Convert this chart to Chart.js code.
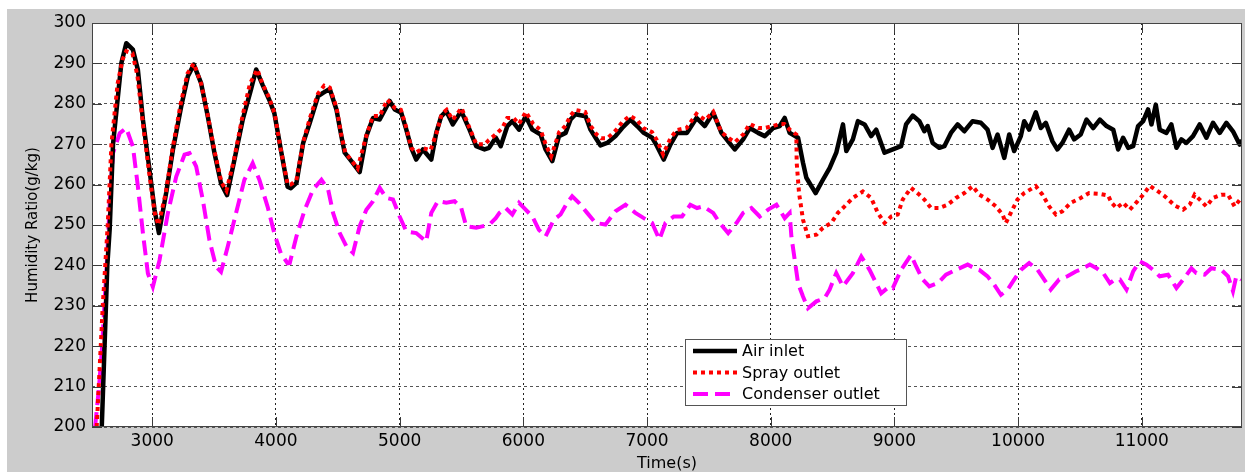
<!DOCTYPE html>
<html>
<head>
<meta charset="utf-8">
<script src="https://cdn.jsdelivr.net/npm/chart.js@4.4.1/dist/chart.umd.min.js"></script>
<style>
  html, body { margin: 0; padding: 0; background: #fff; }
  #wrap { position: relative; width: 1245px; height: 472px; }
</style>
</head>
<body>
<div id="wrap"><canvas id="humidityChart" width="1245" height="472"></canvas></div>
<script>
// Datos: [tiempo (s), humedad (g/kg)]
const airInlet = [
  [2592,200],[2637,240],[2656,249],[2683,270],[2750,290],[2790,295],[2844,293.4],[2884,288.4],
  [2925,276],[2978,263.6],[3019,253.7],[3054,248],[3113,258],[3167,268.6],[3234,279.3],[3288,286.8],
  [3336,289.7],[3395,285.1],[3449,276.9],[3503,267.8],[3556,260.3],[3605,257.4],[3664,266.1],[3731,276],
  [3798,283.5],[3840,288.5],[3892,284.7],[3946,281],[3987,277.7],[4040,268.6],[4094,259.5],[4121,259.1],
  [4166,260.4],[4220,270.3],[4274,275.3],[4341,281.9],[4381,282.7],[4435,283.7],[4489,278.6],[4529,272],
  [4556,267.9],[4610,265.8],[4677,263.1],[4731,272],[4785,276.5],[4839,276.1],[4919,280.7],[4960,278.6],
  [5013,277.8],[5054,273.6],[5094,269.1],[5134,266.2],[5188,268.7],[5256,266.2],[5296,272.8],[5336,276.9],
  [5377,278.2],[5430,274.9],[5498,278.2],[5565,273.6],[5619,269.5],[5686,268.7],[5723,269.1],[5777,271.6],
  [5817,269.5],[5871,274.5],[5911,275.7],[5965,273.6],[6019,276.9],[6073,273.6],[6140,272.4],[6180,268.7],
  [6234,265.8],[6288,272],[6342,272.8],[6382,276.1],[6422,277.4],[6503,276.9],[6543,273.6],[6584,271.6],
  [6624,269.7],[6678,270.3],[6745,272],[6799,274],[6866,276.1],[6920,274.5],[6974,272.8],[7041,271.6],
  [7081,269.5],[7135,266.2],[7189,269.9],[7243,272.8],[7323,272.8],[7400,276.5],[7467,274.5],[7535,277.8],
  [7602,272.8],[7656,270.7],[7709,268.7],[7777,271.2],[7831,274],[7898,272.8],[7952,272],[8019,274],
  [8073,274.5],[8113,276.5],[8153,272.8],[8221,271.6],[8261,265.4],[8288,261.7],[8363,257.9],[8422,261.2],
  [8476,264.1],[8530,267.9],[8584,274.9],[8611,268.3],[8664,271.2],[8705,275.7],[8759,274.9],[8812,272],
  [8853,273.6],[8920,267.9],[8987,268.7],[9054,269.5],[9094,274.9],[9148,277.1],[9202,275.7],[9242,273.2],
  [9269,274.5],[9309,270.3],[9363,269.1],[9404,269.5],[9457,272.8],[9511,274.9],[9565,273.2],[9632,275.7],
  [9699,275.3],[9753,273.6],[9794,269.1],[9834,272.4],[9888,266.6],[9928,272.4],[9968,268.3],[10022,272],
  [10049,275.7],[10089,273.6],[10143,277.9],[10184,274],[10224,275.3],[10278,270.7],[10318,268.7],[10358,270.3],
  [10412,273.6],[10453,271.2],[10506,272.4],[10553,276.1],[10607,274],[10661,276.1],[10715,274.5],[10769,273.6],
  [10809,268.7],[10849,271.6],[10890,269.1],[10930,269.5],[10970,274.5],[11011,275.7],[11051,278.6],[11078,274.9],
  [11113,279.8],[11145,273.6],[11199,272.8],[11239,274.9],[11280,269.1],[11320,271.2],[11360,270.3],[11414,272],
  [11468,274.9],[11522,271.6],[11576,275.3],[11630,272.8],[11684,275.3],[11737,273.2],[11791,269.9],[11810,271]
];

const sprayOutlet = [
  [2551,200],[2600,230],[2640,250],[2670,270],[2720,285],[2760,291],[2790,293],[2840,292.5],[2880,287],
  [2925,275],[2975,263],[3020,253],[3050,250],[3110,258],[3165,269],[3230,280],[3285,287.5],[3336,290],
  [3395,285],[3450,277],[3505,268],[3560,260.5],[3600,258.5],[3660,266],[3730,277],[3790,285],[3850,288.5],
  [3890,285],[3945,281.5],[3990,277.5],[4040,268.5],[4095,260],[4120,260],[4165,261],[4220,270.5],[4275,276.5],
  [4340,282.5],[4390,284.5],[4435,284],[4490,279],[4530,272],[4560,268],[4610,266],[4660,264],[4730,272],
  [4785,277],[4840,277],[4900,281],[4960,279],[5010,278.5],[5055,274],[5095,269],[5135,268],[5190,269],
  [5250,268.5],[5300,273],[5340,277.5],[5380,278.5],[5430,276],[5500,279],[5565,274],[5620,270],[5690,270],
  [5720,271],[5780,272.5],[5830,274],[5870,276.5],[5920,276.5],[5965,275],[6020,278],[6080,275],[6140,273.5],
  [6180,270],[6225,267],[6290,273],[6340,274.5],[6380,277],[6420,278.5],[6500,278],[6545,274.5],[6590,272.5],
  [6630,271.5],[6680,271.5],[6750,273.5],[6800,275.5],[6860,277],[6920,276],[6970,274],[7040,273],[7080,271],
  [7130,267.5],[7190,271.5],[7240,273.5],[7320,274],[7400,277.5],[7470,276],[7535,278],[7600,273],[7660,271.5],
  [7710,270.5],[7780,272.5],[7830,275],[7900,274],[7950,274],[8020,274.5],[8070,275],[8110,275],[8153,273.6],
  [8207,272.4],[8210,265.4],[8229,257.9],[8261,251.3],[8301,247.2],[8369,247.6],[8422,249.3],[8490,250.5],
  [8543,253],[8597,254.6],[8664,256.7],[8745,258.3],[8812,256.7],[8866,253],[8920,250.5],[8974,252.1],
  [9027,252.6],[9067,256.3],[9134,259.2],[9202,257.5],[9242,256.3],[9296,254.2],[9363,254.2],[9430,255],
  [9498,256.7],[9565,257.9],[9632,259.6],[9686,257.5],[9753,256.3],[9820,254.6],[9874,252.6],[9901,250.5],
  [9941,253],[9995,256.3],[10049,257.9],[10143,259.6],[10197,257.5],[10251,254.6],[10305,252.6],[10358,253.4],
  [10426,255.5],[10506,256.7],[10574,257.9],[10661,257.7],[10728,257.3],[10755,255.5],[10796,254.2],[10849,255.5],
  [10903,253.8],[10957,255.6],[11011,257.5],[11065,259.7],[11132,258.3],[11186,257.1],[11266,254.8],[11334,253.8],
  [11387,255],[11427,257.5],[11468,256.3],[11522,254.6],[11576,256.7],[11643,257.5],[11697,257.5],[11750,254.6],
  [11804,256.7]
];

const condenserOutlet = [
  [2538,200],[2570,210],[2595,220],[2613,230],[2632,240],[2656,255.4],[2683,267.8],[2737,272.7],[2790,274],
  [2844,269.4],[2884,259.5],[2925,247.9],[2965,238],[3005,234.7],[3059,241.3],[3126,252.9],[3194,262],[3261,267.4],
  [3301,267.8],[3355,264.5],[3409,256.2],[3462,246.3],[3516,239.7],[3556,238.4],[3610,244.6],[3677,252.9],
  [3745,261.2],[3812,265.3],[3866,261.2],[3933,254.5],[3987,247.9],[4040,243],[4094,240.5],[4112,240.6],
  [4166,247.2],[4233,253.8],[4301,258.8],[4368,261.2],[4422,258.8],[4462,253],[4516,248],[4570,244.7],
  [4623,243.1],[4677,249.7],[4731,253.8],[4785,255.9],[4839,259.2],[4892,256.7],[4946,256.3],[5000,252.1],
  [5054,248.4],[5134,248],[5215,245.9],[5256,253],[5309,255.9],[5377,255.5],[5444,255.9],[5498,254.2],
  [5538,249.7],[5619,249.3],[5726,250.1],[5777,251.7],[5807,253],[5857,254.2],[5911,252.6],[5965,255.5],
  [6019,253.8],[6073,252.1],[6126,248.8],[6180,247.2],[6247,251.3],[6301,252.6],[6355,255.5],[6395,257.1],
  [6449,255.5],[6516,253],[6584,250.5],[6664,250.1],[6745,253.4],[6826,255],[6906,253],[6974,251.7],
  [7041,250.5],[7100,246.4],[7149,250.5],[7216,252.1],[7283,252.1],[7350,255],[7404,254.2],[7454,254.6],
  [7535,253],[7588,250.5],[7656,248],[7723,250.5],[7777,253],[7844,254.2],[7911,252.1],[7979,253.8],
  [8046,255],[8113,251.7],[8153,253],[8167,247.2],[8194,241.4],[8221,235.6],[8261,232.3],[8301,229.4],
  [8369,231.1],[8436,231.9],[8476,234],[8530,238.1],[8584,234.8],[8664,238.1],[8732,242.2],[8799,238.9],
  [8853,235.6],[8893,233.1],[8960,234.8],[8987,234.4],[9054,238.9],[9134,242.6],[9175,239.8],[9229,236.5],
  [9282,234.8],[9350,235.6],[9417,237.7],[9498,238.9],[9592,240.2],[9646,239.3],[9686,238.9],[9753,237.3],
  [9807,235.2],[9861,232.7],[9915,234],[9968,236.5],[10022,238.9],[10089,240.6],[10157,238.9],[10211,236.5],
  [10264,234],[10332,236.5],[10399,237.3],[10466,238.5],[10500,238.9],[10580,240.2],[10634,239.3],[10688,238.1],
  [10742,235.6],[10782,236.5],[10823,236.5],[10876,234],[10930,238.5],[10984,241],[11038,240.2],[11091,238.9],
  [11145,237.3],[11212,237.7],[11280,234.4],[11334,236.5],[11401,239.3],[11441,238.1],[11508,237.7],[11562,239.3],
  [11643,238.9],[11697,237.3],[11737,233.6],[11764,237.3],[11804,236.5]
];

const seriesLabels = ['Air inlet', 'Spray outlet', 'Condenser outlet'];
const xTicks = [3000, 4000, 5000, 6000, 7000, 8000, 9000, 10000, 11000];
const yTicks = [200, 210, 220, 230, 240, 250, 260, 270, 280, 290, 300];

const FONT = '"DejaVu Sans", Arial, sans-serif';

function toPoints(arr) {
  return arr.map(function(p) { return { x: p[0], y: p[1] }; });
}

// Fondo gris tipo MATLAB, caja del área y marcas interiores
const matlabFrame = {
  id: 'matlabFrame',
  beforeDraw: function(chart) {
    const ctx = chart.ctx;
    const a = chart.chartArea;
    ctx.save();
    ctx.fillStyle = '#ffffff';
    ctx.fillRect(0, 0, chart.width, chart.height);
    ctx.fillStyle = '#cccccc';
    ctx.fillRect(7, 9, chart.width - 7, chart.height - 9);
    ctx.fillStyle = '#ffffff';
    ctx.fillRect(a.left, a.top, a.right - a.left, a.bottom - a.top);
    ctx.restore();
  },
  afterDatasetsDraw: function(chart) {
    const ctx = chart.ctx;
    const a = chart.chartArea;
    const xs = chart.scales.x;
    const ys = chart.scales.y;
    ctx.save();
    ctx.strokeStyle = '#3a3a3a';
    ctx.lineWidth = 1;
    ctx.setLineDash([]);
    ctx.beginPath();
    yTicks.forEach(function(v) {
      const py = Math.round(ys.getPixelForValue(v)) + 0.5;
      ctx.moveTo(a.left, py); ctx.lineTo(a.left + 10, py);
      ctx.moveTo(a.right - 10, py); ctx.lineTo(a.right, py);
    });
    xTicks.forEach(function(v) {
      const px = Math.round(xs.getPixelForValue(v)) + 0.5;
      ctx.moveTo(px, a.bottom); ctx.lineTo(px, a.bottom - 10);
      ctx.moveTo(px, a.top); ctx.lineTo(px, a.top + 10);
    });
    ctx.stroke();
    ctx.strokeStyle = '#444444';
    ctx.strokeRect(a.left + 0.5, a.top + 0.5, a.right - a.left - 1, a.bottom - a.top - 1);

    // Leyenda dentro del área
    const box = { x: 685, y: 339, w: 221, h: 66 };
    ctx.fillStyle = '#ffffff';
    ctx.fillRect(box.x, box.y, box.w, box.h);
    ctx.strokeStyle = '#555555';
    ctx.strokeRect(box.x + 0.5, box.y + 0.5, box.w, box.h);
    chart.data.datasets.forEach(function(ds, i) {
      const rowY = box.y + 12 + i * 21.5;
      ctx.beginPath();
      ctx.strokeStyle = ds.borderColor;
      ctx.lineWidth = ds.borderWidth;
      ctx.setLineDash(ds.borderDash || []);
      ctx.moveTo(693, rowY);
      ctx.lineTo(737, rowY);
      ctx.stroke();
      ctx.setLineDash([]);
      ctx.fillStyle = '#000000';
      ctx.font = '16px ' + FONT;
      ctx.textBaseline = 'middle';
      ctx.textAlign = 'left';
      ctx.fillText(ds.label, 742, rowY + 1);
    });
    ctx.restore();
  }
};

const ctx = document.getElementById('humidityChart').getContext('2d');
new Chart(ctx, {
  type: 'line',
  data: {
    datasets: [
      {
        label: seriesLabels[0],
        data: toPoints(airInlet),
        borderColor: '#000000',
        borderWidth: 4.5,
        borderJoinStyle: 'round',
        order: 1
      },
      {
        label: seriesLabels[1],
        data: toPoints(sprayOutlet),
        borderColor: '#ff0000',
        borderWidth: 4,
        borderDash: [4, 4],
        order: -1
      },
      {
        label: seriesLabels[2],
        data: toPoints(condenserOutlet),
        borderColor: '#ff00ff',
        borderWidth: 4,
        borderDash: [15, 7],
        order: 2
      }
    ]
  },
  options: {
    responsive: false,
    animation: false,
    devicePixelRatio: 1,
    elements: { point: { radius: 0 }, line: { tension: 0, fill: false } },
    layout: { padding: { top: 23, right: 3, left: 0, bottom: 0 } },
    plugins: { legend: { display: false }, tooltip: { enabled: false } },
    scales: {
      x: {
        type: 'linear',
        min: 2513,
        max: 11810,
        afterFit: function(s) { s.height = 45; },
        afterBuildTicks: function(s) { s.ticks = xTicks.map(function(v) { return { value: v }; }); },
        ticks: {
          padding: 4,
          color: '#000',
          font: { family: FONT, size: 17 },
          callback: function(v) { return String(v); }
        },
        grid: { color: '#222222', lineWidth: 1, drawTicks: false },
        border: { display: false, dash: [2, 3] },
        title: {
          display: true,
          text: 'Time(s)',
          color: '#000',
          font: { family: FONT, size: 16, lineHeight: 1 },
          padding: 0
        }
      },
      y: {
        type: 'linear',
        min: 200,
        max: 300,
        afterFit: function(s) { s.width = 92; },
        afterBuildTicks: function(s) { s.ticks = yTicks.map(function(v) { return { value: v }; }); },
        ticks: {
          padding: 6,
          color: '#000',
          font: { family: FONT, size: 17 },
          callback: function(v) { return String(v); }
        },
        grid: { color: '#555555', lineWidth: 1, drawTicks: false },
        border: { display: false, dash: [3, 3] },
        title: {
          display: true,
          text: 'Humidity Ratio(g/kg)',
          color: '#000',
          font: { family: FONT, size: 15, lineHeight: 1.2 },
          padding: { top: 24, bottom: 0 }
        }
      }
    }
  },
  plugins: [matlabFrame]
});
</script>
</body>
</html>
